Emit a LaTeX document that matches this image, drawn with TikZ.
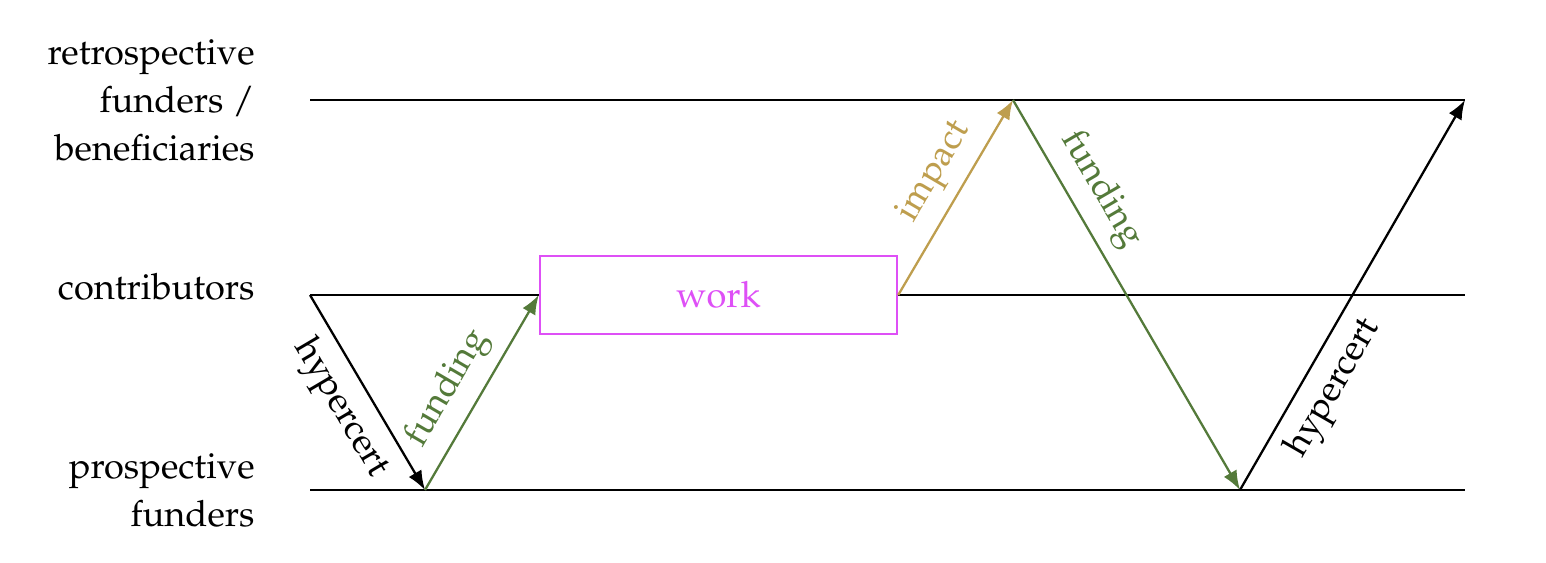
\documentclass[tikz,border=0pt]{standalone}
\usepackage[T1]{fontenc}
\usepackage{mathpazo}
\usetikzlibrary{arrows.meta}
\definecolor{fundgreen}{RGB}{84,122,58}
\definecolor{impactgold}{RGB}{190,158,78}
\definecolor{workpink}{RGB}{222,80,246}
\tikzset{
  level/.style={line width=0.65pt},
  flow/.style={line width=0.65pt,-{Latex[length=5.5pt,width=4.2pt]}},
  side/.style={align=right,anchor=east}
}

\begin{document}
\begin{tikzpicture}[font=\fontsize{10.3}{13.7}\selectfont]
        \useasboundingbox (0,0) rectangle (15.46,5.62);
        % Ends of the three levels
        \coordinate (retroL) at (3.10,4.62);
        \coordinate (retroR) at (14.65,4.62);
        \coordinate (contribL) at (3.10,2.67);
        \coordinate (contribR) at (14.65,2.67);
        \coordinate (prospL) at (3.10,0.72);
        \coordinate (prospR) at (14.65,0.72);
        \coordinate (prospA) at (4.25,0.72);
        \coordinate (retroTop) at (10.13,4.62);
        \coordinate (prospB) at (12.40,0.72);

        % Level names
        \node[side] (retroname) at (2.67,4.62) {retrospective\\funders /\\beneficiaries};
        \node[side] (contribname) at (2.67,2.75) {contributors};
        \node[side] (prospname) at (2.67,0.72) {prospective\\funders};

        % The work box
        \node[draw=workpink,text=workpink,line width=0.7pt,minimum width=3.57cm,minimum height=0.78cm] (work) at (7.185,2.67) {work};

        % Levels
        \draw[level] (retroL) -- (retroR);
        \draw[level] (contribL) -- (work.west);
        \draw[level] (work.east) -- (contribR);
        \draw[level] (prospL) -- (prospR);

        % Flows
        \draw[flow] (contribL) -- node[pos=0.5,sloped,below] (hyperA) {hypercert} (prospA);
        \draw[flow,fundgreen] (prospA) -- node[pos=0.44,sloped,above,text=fundgreen] (fundA) {funding} (work.west);
        \draw[flow,impactgold] (work.east) -- node[pos=0.55,sloped,above,text=impactgold] (impact) {impact} (retroTop);
        \draw[flow,fundgreen] (retroTop) -- node[pos=0.27,sloped,above,text=fundgreen] (fundB) {funding} (prospB);
        \draw[flow] (prospB) -- node[pos=0.3,sloped,below] (hyperB) {hypercert} (retroR);
    \end{tikzpicture}
\end{document}
